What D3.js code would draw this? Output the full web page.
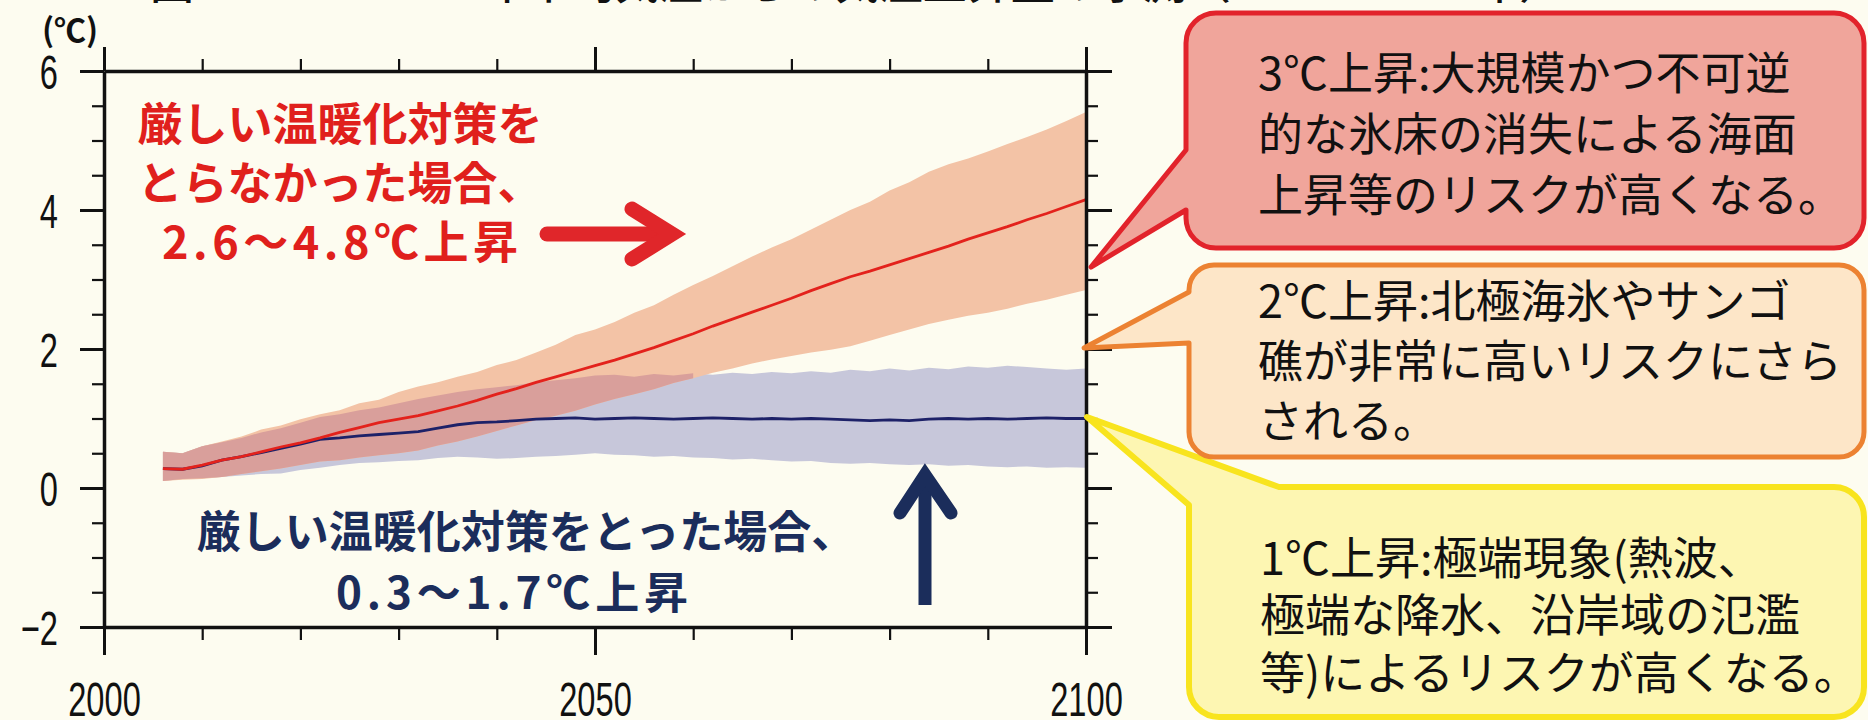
<!DOCTYPE html>
<html>
<head>
<meta charset="utf-8">
<script src="https://cdn.jsdelivr.net/npm/d3@7"></script>
<style>
  html, body { margin: 0; padding: 0; background: #fdfcf0; }
  svg { display: block; }
</style>
</head>
<body>
<svg id="chart" width="1868" height="720"></svg>
<script>
// ---- data: global mean surface temperature change (°C, vs 1986–2005) ----
const years = [2006,2008,2010,2012,2014,2016,2018,2020,2022,2024,2026,2028,2030,2032,2034,2036,2038,2040,2042,2044,2046,2048,2050,2052,2054,2056,2058,2060,2062,2064,2066,2068,2070,2072,2074,2076,2078,2080,2082,2084,2086,2088,2090,2092,2094,2096,2098,2100];

// high-emission scenario (no strict mitigation)
const rcp85Mean = [0.28,0.27,0.33,0.40,0.45,0.52,0.59,0.65,0.72,0.80,0.87,0.94,0.99,1.04,1.11,1.18,1.26,1.35,1.43,1.52,1.60,1.68,1.76,1.84,1.93,2.02,2.12,2.22,2.33,2.43,2.53,2.63,2.73,2.84,2.94,3.04,3.12,3.21,3.30,3.39,3.48,3.58,3.67,3.76,3.86,3.95,4.05,4.15];
const rcp85Hi   = [0.52,0.50,0.60,0.67,0.74,0.84,0.90,0.99,1.06,1.12,1.22,1.27,1.38,1.46,1.52,1.60,1.67,1.77,1.84,1.95,2.06,2.20,2.28,2.39,2.52,2.63,2.78,2.92,3.05,3.19,3.33,3.46,3.58,3.72,3.86,4.00,4.12,4.28,4.40,4.55,4.66,4.74,4.84,4.95,5.05,5.16,5.28,5.41];
const rcp85Lo   = [0.10,0.12,0.13,0.16,0.20,0.24,0.28,0.33,0.38,0.40,0.44,0.47,0.50,0.54,0.61,0.67,0.74,0.82,0.90,0.98,1.04,1.11,1.20,1.28,1.35,1.42,1.51,1.58,1.66,1.72,1.79,1.85,1.90,1.95,1.99,2.04,2.12,2.20,2.28,2.36,2.42,2.48,2.52,2.58,2.65,2.71,2.78,2.85];

// low-emission scenario (strict mitigation)
const rcp26Mean = [0.28,0.27,0.32,0.40,0.45,0.51,0.57,0.63,0.70,0.72,0.75,0.77,0.79,0.81,0.86,0.91,0.94,0.95,0.97,0.99,1.00,1.01,0.99,1.00,1.01,1.00,0.99,1.00,1.01,1.00,0.99,1.00,0.99,1.00,0.99,0.98,0.97,0.98,0.97,0.99,1.00,0.99,1.00,0.99,1.00,1.01,1.00,1.00];
const rcp26Hi   = [0.52,0.50,0.60,0.66,0.72,0.80,0.86,0.94,1.02,1.06,1.12,1.16,1.22,1.28,1.33,1.38,1.42,1.45,1.48,1.52,1.55,1.58,1.62,1.63,1.60,1.64,1.62,1.65,1.63,1.66,1.64,1.67,1.65,1.68,1.66,1.70,1.68,1.72,1.69,1.73,1.71,1.75,1.73,1.76,1.74,1.72,1.70,1.72];
const rcp26Lo   = [0.10,0.13,0.14,0.16,0.18,0.20,0.21,0.26,0.29,0.33,0.36,0.37,0.39,0.40,0.43,0.45,0.44,0.42,0.43,0.45,0.46,0.48,0.50,0.48,0.47,0.45,0.46,0.44,0.43,0.41,0.42,0.40,0.38,0.39,0.36,0.35,0.36,0.34,0.33,0.34,0.32,0.33,0.31,0.30,0.31,0.29,0.30,0.29];

// ---- axis ticks ----
const yMajor = [-2, 0, 2, 4, 6];
const yMinor = [-1.5, -1, -0.5, 0.5, 1, 1.5, 2.5, 3, 3.5, 4.5, 5, 5.5];
const xMajor = [2000, 2050, 2100];
const xMinor = [2010, 2020, 2030, 2040, 2060, 2070, 2080, 2090];
const yUnitLabel = "(℃)";

// ---- annotation texts ----
const titleText = "図　1986～2005年平均気温からの気温上昇量の予測（2006～2100年）";
const highLabel = ["厳しい温暖化対策を", "とらなかった場合、", "2.6～4.8℃上昇"];
const lowLabel  = ["厳しい温暖化対策をとった場合、", "0.3～1.7℃上昇"];
const risk3 = ["3℃上昇:大規模かつ不可逆", "的な氷床の消失による海面", "上昇等のリスクが高くなる。"];
const risk2 = ["2℃上昇:北極海氷やサンゴ", "礁が非常に高いリスクにさら", "される。"];
const risk1 = ["1℃上昇:極端現象(熱波、", "極端な降水、沿岸域の氾濫", "等)によるリスクが高くなる。"];

// ---- drawing ----
const svg = d3.select("#chart");
const W = 1868, H = 720;
svg.append("rect").attr("width", W).attr("height", H).attr("fill", "#fdfcf0");

const x = d3.scaleLinear().domain([2000, 2100]).range([104, 1086]);
const y = d3.scaleLinear().domain([-2, 6]).range([627, 71]);

const JP = "'Noto Sans CJK JP', 'Noto Sans', sans-serif";

// heading line running off the top edge
svg.append("text")
  .attr("x", 150).attr("y", -1)
  .attr("font-family", JP).attr("font-size", 44).attr("font-weight", 500)
  .attr("fill", "#111")
  .text(titleText);

// uncertainty bands
const band = (lo, hi) => d3.area()
  .x((d, i) => x(years[i]))
  .y0((d, i) => y(lo[i]))
  .y1((d, i) => y(hi[i]));

const plot = svg.append("g");
plot.append("path").datum(years).attr("d", band(rcp26Lo, rcp26Hi)).attr("fill", "#c7c7da");
plot.append("path").datum(years).attr("d", band(rcp85Lo, rcp85Hi)).attr("fill", "#f3c3a6");

// where the two ranges overlap
const ovLo = years.map((d, i) => Math.max(rcp85Lo[i], rcp26Lo[i]));
const ovHi = years.map((d, i) => Math.min(rcp85Hi[i], rcp26Hi[i]));
plot.append("path").datum(years)
  .attr("d", band(ovLo, ovHi).defined((d, i) => ovHi[i] > ovLo[i]))
  .attr("fill", "#d99f9b");

// scenario means
const meanLine = vals => d3.line().x((d, i) => x(years[i])).y((d, i) => y(vals[i]));
plot.append("path").datum(years).attr("d", meanLine(rcp26Mean))
  .attr("fill", "none").attr("stroke", "#1d2168").attr("stroke-width", 2.8);
plot.append("path").datum(years).attr("d", meanLine(rcp85Mean))
  .attr("fill", "none").attr("stroke", "#e3221c").attr("stroke-width", 2.8);

// ---- axes (all ticks point outward) ----
const LABEL_FONT = "'Liberation Sans', Arial, sans-serif";
const SX = 0.68;
function styleAxis(g) {
  g.select(".domain").attr("stroke", "#111").attr("stroke-width", 3.5);
  g.selectAll(".tick line").attr("stroke", "#111").attr("stroke-width", 3);
}
function styleMinor(g) {
  g.select(".domain").remove();
  g.selectAll(".tick line").attr("stroke", "#111").attr("stroke-width", 2.2);
  g.selectAll(".tick text").remove();
}
const fmtY = d => d < 0 ? "\u2212" + Math.abs(d) : String(d);

const gl = svg.append("g").attr("transform", "translate(104,0)")
  .call(d3.axisLeft(y).tickValues(yMajor).tickSize(24).tickSizeOuter(0).tickFormat(fmtY));
styleAxis(gl);
gl.selectAll(".tick text")
  .attr("font-family", LABEL_FONT).attr("font-size", 48).attr("fill", "#111")
  .attr("transform", `scale(${SX},1)`).attr("x", -46 / SX).attr("dy", "0.36em");
svg.append("g").attr("transform", "translate(104,0)")
  .call(d3.axisLeft(y).tickValues(yMinor).tickSize(12).tickFormat(() => "")).call(styleMinor);

const gr = svg.append("g").attr("transform", "translate(1086,0)")
  .call(d3.axisRight(y).tickValues(yMajor).tickSize(26).tickSizeOuter(0).tickFormat(() => ""));
styleAxis(gr);
svg.append("g").attr("transform", "translate(1086,0)")
  .call(d3.axisRight(y).tickValues(yMinor).tickSize(12).tickFormat(() => "")).call(styleMinor);

const gt = svg.append("g").attr("transform", "translate(0,71)")
  .call(d3.axisTop(x).tickValues(xMajor).tickSize(24).tickSizeOuter(0).tickFormat(() => ""));
styleAxis(gt);
svg.append("g").attr("transform", "translate(0,71)")
  .call(d3.axisTop(x).tickValues(xMinor).tickSize(12).tickFormat(() => "")).call(styleMinor);

const gb = svg.append("g").attr("transform", "translate(0,627)")
  .call(d3.axisBottom(x).tickValues(xMajor).tickSize(28).tickSizeOuter(0).tickFormat(d3.format("d")));
styleAxis(gb);
gb.selectAll(".tick text")
  .attr("font-family", LABEL_FONT).attr("font-size", 48).attr("fill", "#111")
  .attr("transform", `scale(${SX},1)`).attr("y", 55);
svg.append("g").attr("transform", "translate(0,627)")
  .call(d3.axisBottom(x).tickValues(xMinor).tickSize(13).tickFormat(() => "")).call(styleMinor);

svg.append("text").attr("x", 70).attr("y", 28)
  .attr("text-anchor", "middle").attr("dominant-baseline", "central")
  .attr("font-family", JP).attr("font-size", 32).attr("font-weight", 700).attr("fill", "#111")
  .text(yUnitLabel);

// ---- scenario labels and arrows ----
function lines(arr, cx, ys, size, color, weight, anchor, widths) {
  arr.forEach((t, i) => {
    const el = svg.append("text")
      .attr("x", cx).attr("y", ys[i])
      .attr("text-anchor", anchor).attr("dominant-baseline", "central")
      .attr("font-family", JP).attr("font-size", size).attr("font-weight", weight)
      .attr("fill", color).text(t);
    if (widths && widths[i]) el.attr("textLength", widths[i]).attr("lengthAdjust", "spacing");
  });
}
lines(highLabel, 340, [121, 180, 239], 45, "#e0201c", 700, "middle", [null, null, 356]);
lines(lowLabel, 526, [529, 590], 44, "#1b2d5b", 700, "middle", [null, 352]);
// (second blue line keeps its own centre)
svg.selectAll("text").filter(function () { return d3.select(this).text() === lowLabel[1]; }).attr("x", 512);

// red arrow pointing right
svg.append("path").attr("d", "M547,234 H668")
  .attr("stroke", "#e0262a").attr("stroke-width", 15).attr("stroke-linecap", "round").attr("fill", "none");
svg.append("path").attr("d", "M632,209 L672,234 L632,259")
  .attr("stroke", "#e0262a").attr("stroke-width", 15).attr("stroke-linecap", "round")
  .attr("stroke-linejoin", "miter").attr("fill", "none");

// navy arrow pointing up
svg.append("path").attr("d", "M925,605 V478")
  .attr("stroke", "#1b2d5b").attr("stroke-width", 13).attr("fill", "none");
svg.append("path").attr("d", "M900,513 L925,475 L951,513")
  .attr("stroke", "#1b2d5b").attr("stroke-width", 13).attr("stroke-linecap", "round")
  .attr("stroke-linejoin", "miter").attr("fill", "none");

// ---- speech bubbles ----
// pointer on the left edge between yTop and yBot
function bubbleLeft(bx, by, bw, bh, r, yTop, yBot, tx, ty) {
  const p = d3.path();
  p.moveTo(bx + r, by);
  p.lineTo(bx + bw - r, by);
  p.arcTo(bx + bw, by, bx + bw, by + r, r);
  p.lineTo(bx + bw, by + bh - r);
  p.arcTo(bx + bw, by + bh, bx + bw - r, by + bh, r);
  p.lineTo(bx + r, by + bh);
  p.arcTo(bx, by + bh, bx, by + bh - r, r);
  p.lineTo(bx, yBot);
  p.lineTo(tx, ty);
  p.lineTo(bx, yTop);
  p.lineTo(bx, by + r);
  p.arcTo(bx, by, bx + r, by, r);
  p.closePath();
  return p.toString();
}
// pointer replacing the top-left corner
function bubbleCorner(bx, by, bw, bh, r, yLeft, xTop, tx, ty) {
  const p = d3.path();
  p.moveTo(bx, yLeft);
  p.lineTo(tx, ty);
  p.lineTo(xTop, by);
  p.lineTo(bx + bw - r, by);
  p.arcTo(bx + bw, by, bx + bw, by + r, r);
  p.lineTo(bx + bw, by + bh - r);
  p.arcTo(bx + bw, by + bh, bx + bw - r, by + bh, r);
  p.lineTo(bx + r, by + bh);
  p.arcTo(bx, by + bh, bx, by + bh - r, r);
  p.closePath();
  return p.toString();
}

svg.append("path").attr("d", bubbleCorner(1189, 487, 675, 230, 30, 505, 1279, 1087, 417))
  .attr("fill", "#fdf6b2").attr("stroke", "#f8e41e").attr("stroke-width", 6).attr("stroke-linejoin", "round");
svg.append("path").attr("d", bubbleLeft(1189, 265, 675, 192, 25, 292, 343, 1084, 348))
  .attr("fill", "#fde6c8").attr("stroke", "#ec8232").attr("stroke-width", 5).attr("stroke-linejoin", "round");
svg.append("path").attr("d", bubbleLeft(1186, 13, 678, 235, 30, 150, 210, 1091, 267))
  .attr("fill", "#f0a59b").attr("stroke", "#e2232b").attr("stroke-width", 5).attr("stroke-linejoin", "round");

lines(risk3, 1258, [70, 131, 192], 45, "#111", 400, "start");
lines(risk2, 1258, [298, 358, 418], 45, "#111", 400, "start");
lines(risk1, 1260, [555, 612, 670], 45, "#111", 400, "start");
</script>
</body>
</html>
